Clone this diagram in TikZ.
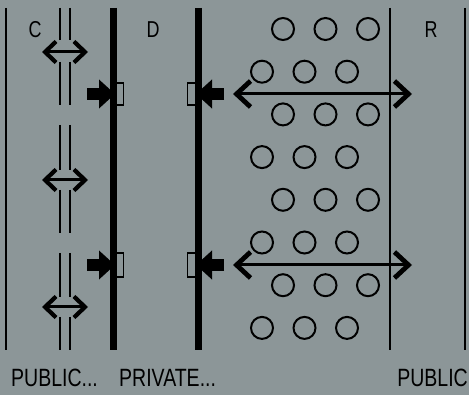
\documentclass[tikz,border=0pt]{standalone}
\usepackage{fontspec}
\newfontfamily\etiq{Liberation Sans}[FakeStretch=0.78]
\usetikzlibrary{arrows.meta}
\definecolor{fond}{RGB}{140,150,152}

\begin{document}
\begin{tikzpicture}[x=1pt, y=-1pt,
    mince/.style = {line width=2.4pt},
    epais/.style = {line width=6.5pt},
    cadre/.style = {line width=1.6pt},
    rond/.style = {draw, circle, line width=2pt, minimum size=22pt, inner sep=0pt},
    fleche/.style = {line width=3pt, {Straight Barb[length=11pt,width=21pt,line width=4.2pt]}-{Straight Barb[length=11pt,width=21pt,line width=4.2pt]}},
    grande/.style = {line width=3pt, {Straight Barb[length=14pt,width=26pt,line width=4.8pt]}-{Straight Barb[length=14pt,width=26pt,line width=4.8pt]}},
    bloc/.style = {line width=12pt, -{Triangle[length=16pt,width=28pt]}},
    titre/.style = {font=\etiq\fontsize{23}{26}\selectfont, inner sep=0pt, anchor=base},
    legende/.style = {font=\etiq\fontsize{25}{28}\selectfont, inner sep=0pt}]

    \fill[fond] (0,0) rectangle (469,395);
    \useasboundingbox (0,0) rectangle (469,395);

    % Lignes
    \draw[mince] (6,8) -- (6,350);
    \draw[mince] (60,8) -- (60,40) (70,8) -- (70,40);
    \draw[mince] (60,62) -- (60,105) (70,62) -- (70,105);
    \draw[mince] (60,125) -- (60,170) (70,125) -- (70,170);
    \draw[mince] (60,190) -- (60,233) (70,190) -- (70,233);
    \draw[mince] (60,253) -- (60,297) (70,253) -- (70,297);
    \draw[mince] (60,317) -- (60,350) (70,317) -- (70,350);
    \draw[epais] (113.5,8) -- (113.5,350);
    \draw[epais] (198.5,8) -- (198.5,350);
    \draw[mince] (390,8) -- (390,350);
    \draw[mince] (465,8) -- (465,350);

    % Cadres
    \draw[cadre] (116,83) -| (123.5,105) -- (116,105);
    \draw[cadre] (116,253) -| (123.5,277) -- (116,277);
    \draw[cadre] (196,83) -| (187.5,105) -- (196,105);
    \draw[cadre] (196,253) -| (187.5,277) -- (196,277);

    % Ronds
    \node[rond] (c11) at (283,29) {};
    \node[rond] (c12) at (325.5,29) {};
    \node[rond] (c13) at (368,29) {};
    \node[rond] (c21) at (262,71.7) {};
    \node[rond] (c22) at (304.5,71.7) {};
    \node[rond] (c23) at (347,71.7) {};
    \node[rond] (c31) at (283,114.4) {};
    \node[rond] (c32) at (325.5,114.4) {};
    \node[rond] (c33) at (368,114.4) {};
    \node[rond] (c41) at (262,157.1) {};
    \node[rond] (c42) at (304.5,157.1) {};
    \node[rond] (c43) at (347,157.1) {};
    \node[rond] (c51) at (283,199.8) {};
    \node[rond] (c52) at (325.5,199.8) {};
    \node[rond] (c53) at (368,199.8) {};
    \node[rond] (c61) at (262,242.5) {};
    \node[rond] (c62) at (304.5,242.5) {};
    \node[rond] (c63) at (347,242.5) {};
    \node[rond] (c71) at (283,285.2) {};
    \node[rond] (c72) at (325.5,285.2) {};
    \node[rond] (c73) at (368,285.2) {};
    \node[rond] (c81) at (262,327.9) {};
    \node[rond] (c82) at (304.5,327.9) {};
    \node[rond] (c83) at (347,327.9) {};

    % Flèches
    \coordinate (p1g) at (42,52);   \coordinate (p1d) at (88,52);
    \coordinate (p2g) at (42,180);  \coordinate (p2d) at (88,180);
    \coordinate (p3g) at (42,307);  \coordinate (p3d) at (88,307);
    \coordinate (l1g) at (233,94);  \coordinate (l1d) at (412,94);
    \coordinate (l2g) at (233,265); \coordinate (l2d) at (412,265);
    \coordinate (b1a) at (87,94);   \coordinate (b1b) at (115,94);
    \coordinate (b2a) at (87,265);  \coordinate (b2b) at (115,265);
    \coordinate (b3a) at (224,94);  \coordinate (b3b) at (196,94);
    \coordinate (b4a) at (224,265); \coordinate (b4b) at (196,265);

    \draw[fleche] (p1g) -- (p1d);
    \draw[fleche] (p2g) -- (p2d);
    \draw[fleche] (p3g) -- (p3d);
    \draw[grande] (l1g) -- (l1d);
    \draw[grande] (l2g) -- (l2d);
    \draw[bloc] (b1a) -- (b1b);
    \draw[bloc] (b2a) -- (b2b);
    \draw[bloc] (b3a) -- (b3b);
    \draw[bloc] (b4a) -- (b4b);

    % Textes
    \node[titre] (C) at (35,38) {C};
    \node[titre] (D) at (153,38) {D};
    \node[titre] (R) at (431,38) {R};
    \node[legende, anchor=base west] (pub1) at (11,387) {PUBLIC...};
    \node[legende, anchor=base west] (priv) at (119,387) {PRIVATE...};
    \node[legende, anchor=base east] (pub2) at (468,387) {PUBLIC};
\end{tikzpicture}
\end{document}
